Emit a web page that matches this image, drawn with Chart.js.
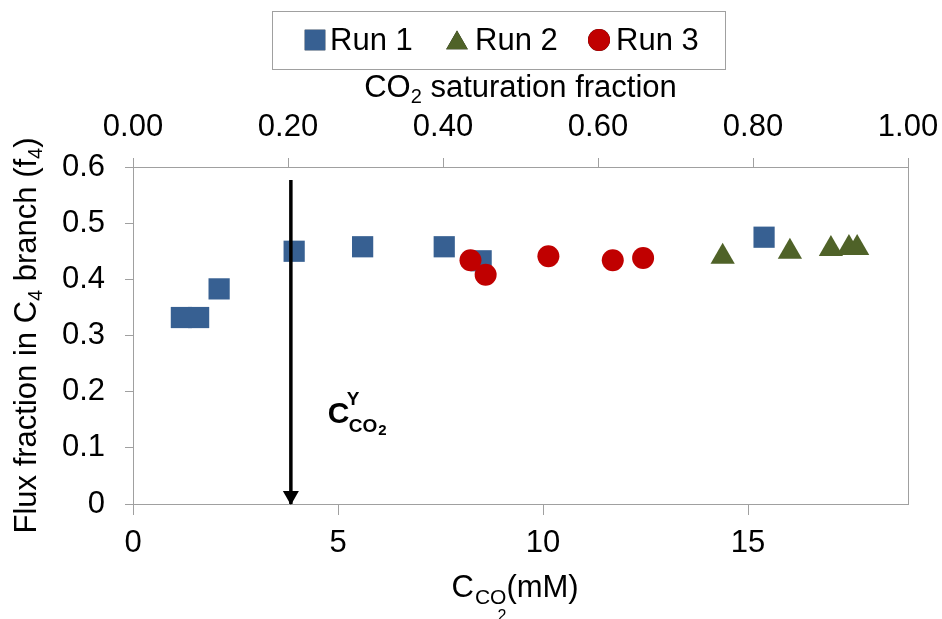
<!DOCTYPE html>
<html>
<head>
<meta charset="utf-8">
<script src="https://cdn.jsdelivr.net/npm/chart.js@4.4.1/dist/chart.umd.min.js"></script>
<style>
  html, body { margin: 0; padding: 0; background: #fff; }
  #wrap { width: 942px; height: 619px; }
</style>
</head>
<body>
<div id="wrap"><canvas id="fluxChart"></canvas></div>
<script>
// C_CO2 (mM) and flux fraction in the C4 branch for each run
const run1X = [1.18, 1.6, 2.1, 3.93, 5.6, 7.59, 8.49, 15.39];
const run1Y = [0.332, 0.332, 0.383, 0.45, 0.458, 0.458, 0.433, 0.475];
const run2X = [14.38, 16.02, 17.02, 17.46, 17.66];
const run2Y = [0.44, 0.449, 0.454, 0.456, 0.456];
const run3X = [8.23, 8.6, 10.13, 11.7, 12.44];
const run3Y = [0.434, 0.408, 0.441, 0.434, 0.438];

// vertical marker at C_CO2^Y
const markerX = [3.85, 3.85];
const markerY = [0.577, 0];

const seriesNames = ["Run 1", "Run 2", "Run 3"];
const concTicks = [0, 5, 10, 15];
const satTicks = [0, 0.2, 0.4, 0.6, 0.8, 1.0];
const fluxTicks = [0, 0.1, 0.2, 0.3, 0.4, 0.5, 0.6];

const FONT = '"Liberation Sans", Arial, sans-serif';
const AXIS_GRAY = "#a0a0a0";

const toPoints = (xs, ys) => xs.map((x, i) => ({ x, y: ys[i] }));
const useTicks = (values) => (scale) => {
  scale.ticks = values.map((value) => ({ value }));
};
// fixed box sizes so the plot area lands in the same place every time
const fixBox = (size) => (scale) => {
  if (scale.isHorizontal()) scale.height = size;
  else scale.width = size;
  scale.paddingLeft = scale.paddingRight = 0;
  scale.paddingTop = scale.paddingBottom = 0;
};

// text runs with sub/superscripts: [text, size, dy, weight]
function richWidth(ctx, parts) {
  return parts.reduce((w, [text, size, , weight]) => {
    ctx.font = `${weight || "normal"} ${size}px ${FONT}`;
    return w + ctx.measureText(text).width;
  }, 0);
}

function drawRich(ctx, parts, x, y) {
  let cx = x;
  parts.forEach(([text, size, dy, weight]) => {
    ctx.font = `${weight || "normal"} ${size}px ${FONT}`;
    ctx.fillText(text, cx, y + dy);
    cx += ctx.measureText(text).width;
  });
}

const decorations = {
  id: "decorations",
  afterDatasetsDraw(chart) {
    const { ctx, chartArea, scales } = chart;
    const midX = (chartArea.left + chartArea.right) / 2;
    const midY = (chartArea.top + chartArea.bottom) / 2;
    ctx.save();
    ctx.fillStyle = "#000";
    ctx.textBaseline = "alphabetic";
    ctx.textAlign = "left";

    // arrow head at the bottom of the marker line
    const ax = scales.x.getPixelForValue(markerX[1]);
    const ay = scales.y.getPixelForValue(markerY[1]);
    ctx.beginPath();
    ctx.moveTo(ax, ay + 1);
    ctx.lineTo(ax - 8, ay - 13);
    ctx.lineTo(ax + 8, ay - 13);
    ctx.closePath();
    ctx.fill();

    // C_CO2^Y label
    ctx.font = `bold 30px ${FONT}`;
    ctx.fillText("C", ax + 37, 423);
    ctx.font = `bold 19px ${FONT}`;
    ctx.fillText("Y", ax + 56, 405);
    ctx.fillText("CO", ax + 58, 432);
    const coW = ctx.measureText("CO").width;
    ctx.font = `bold 15px ${FONT}`;
    ctx.fillText("2", ax + 58 + coW + 1, 435);

    // top axis title
    const topParts = [["CO", 31, 0], ["2", 20, 6], [" saturation fraction", 31, 0]];
    drawRich(ctx, topParts, midX - richWidth(ctx, topParts) / 2, 97);

    // bottom axis title: C_{CO_2}(mM)
    const bx = midX - 69;
    ctx.font = `31px ${FONT}`;
    ctx.fillText("C", bx, 597);
    const cW = ctx.measureText("C").width;
    ctx.font = `21px ${FONT}`;
    ctx.fillText("CO", bx + cW + 1, 604);
    const subW = ctx.measureText("CO").width;
    ctx.font = `16px ${FONT}`;
    ctx.fillText("2", bx + cW + subW - 8, 621);
    ctx.font = `31px ${FONT}`;
    ctx.fillText("(mM)", bx + cW + subW + 1, 597);

    // left axis title
    const leftParts = [
      ["Flux fraction in C", 31, 0],
      ["4", 20, 6],
      [" branch (f", 31, 0],
      ["4", 20, 6],
      [")", 31, 0],
    ];
    ctx.translate(36, midY);
    ctx.rotate(-Math.PI / 2);
    drawRich(ctx, leftParts, -richWidth(ctx, leftParts) / 2, 0);
    ctx.restore();

    // legend box
    ctx.save();
    ctx.strokeStyle = AXIS_GRAY;
    ctx.lineWidth = 1;
    ctx.strokeRect(272.5, 11.5, 453, 58);
    const itemX = [315, 457, 599];
    const textX = [330, 475, 616];
    const legendSize = [14.5, 12.5, 11];
    chart.data.datasets.slice(0, 3).forEach((ds, i) => {
      Chart.helpers.drawPoint(
        ctx,
        {
          pointStyle: ds.pointStyle,
          radius: legendSize[i],
          borderWidth: 0,
          rotation: 0,
        },
        itemX[i],
        i === 1 ? 43 : 40,
      );
      ctx.fillStyle = ds.backgroundColor;
      ctx.fill();
      ctx.fillStyle = "#000";
      ctx.font = `31px ${FONT}`;
      ctx.fillText(seriesNames[i], textX[i], 50);
    });
    ctx.restore();
  },
};

const tickFont = { family: FONT, size: 31 };

new Chart(document.getElementById("fluxChart"), {
  type: "scatter",
  data: {
    datasets: [
      {
        label: seriesNames[0],
        data: toPoints(run1X, run1Y),
        pointStyle: "rect",
        pointRadius: 15,
        backgroundColor: "#376092",
        borderColor: "#376092",
        borderWidth: 0,
        order: 3,
      },
      {
        label: seriesNames[1],
        data: toPoints(run2X, run2Y),
        pointStyle: "triangle",
        pointRadius: 14,
        backgroundColor: "#4f6228",
        borderColor: "#4f6228",
        borderWidth: 0,
        order: 2,
      },
      {
        label: seriesNames[2],
        data: toPoints(run3X, run3Y),
        pointStyle: "circle",
        pointRadius: 11,
        backgroundColor: "#c00000",
        borderColor: "#c00000",
        borderWidth: 0,
        order: 1,
      },
      {
        label: "marker",
        data: toPoints(markerX, markerY),
        showLine: true,
        pointRadius: 0,
        borderColor: "#000",
        borderWidth: 3.5,
        order: 0,
      },
    ],
  },
  options: {
    responsive: true,
    maintainAspectRatio: false,
    animation: false,
    layout: { padding: 0 },
    plugins: {
      legend: { display: false },
      tooltip: { enabled: false },
    },
    scales: {
      x: {
        type: "linear",
        position: "bottom",
        min: 0,
        max: 18.9,
        afterBuildTicks: useTicks(concTicks),
        afterFit: fixBox(115),
        ticks: { font: tickFont, color: "#000", padding: 10, maxRotation: 0 },
        grid: { drawOnChartArea: false, tickLength: 11, color: AXIS_GRAY },
        border: { color: AXIS_GRAY },
      },
      x2: {
        type: "linear",
        position: "top",
        min: 0,
        max: 1,
        afterBuildTicks: useTicks(satTicks),
        afterFit: fixBox(167),
        ticks: {
          font: tickFont,
          color: "#000",
          padding: 12,
          maxRotation: 0,
          callback: (v) => v.toFixed(2),
        },
        grid: { drawOnChartArea: false, tickLength: 9, color: AXIS_GRAY },
        border: { color: AXIS_GRAY },
      },
      y: {
        type: "linear",
        position: "left",
        min: 0,
        max: 0.6,
        afterBuildTicks: useTicks(fluxTicks),
        afterFit: fixBox(133),
        ticks: {
          font: tickFont,
          color: "#000",
          padding: 20,
          callback: (v) => (v === 0 ? "0" : v.toFixed(1)),
        },
        grid: { drawOnChartArea: false, tickLength: 8, color: AXIS_GRAY },
        border: { color: AXIS_GRAY },
      },
      y2: {
        type: "linear",
        position: "right",
        min: 0,
        max: 0.6,
        afterFit: fixBox(34),
        ticks: { display: false },
        grid: { drawOnChartArea: false, drawTicks: false },
        border: { color: AXIS_GRAY },
      },
    },
  },
  plugins: [decorations],
});
</script>
</body>
</html>
